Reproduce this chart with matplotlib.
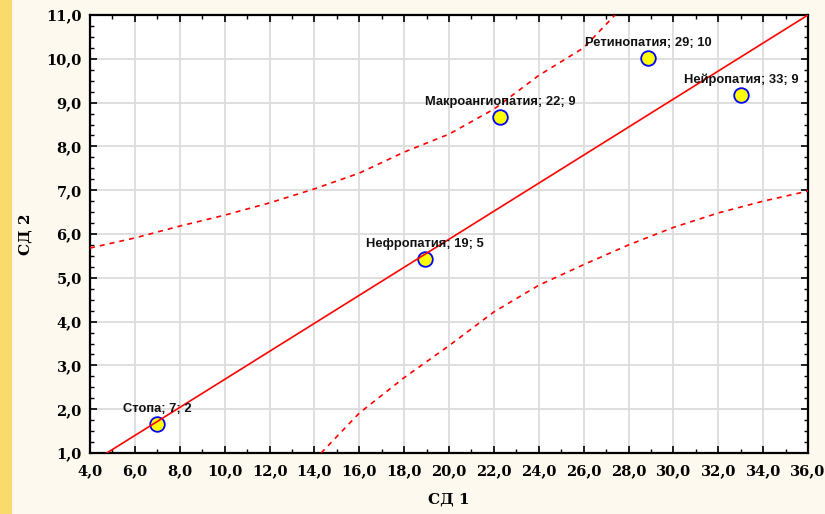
import numpy as np
import matplotlib.pyplot as plt
from matplotlib.ticker import MultipleLocator, FuncFormatter
from matplotlib.patches import Rectangle

# Осложнения: значения для СД 1 и СД 2
groups = ['Стопа', 'Нефропатия', 'Макроангиопатия', 'Ретинопатия', 'Нейропатия']
sd1 = [7.0, 18.93, 22.27, 28.87, 33.01]
sd2 = [1.66, 5.43, 8.67, 10.02, 9.17]

# линия регрессии
fit_slope = 0.32
fit_intercept = -0.52

# границы доверительного интервала
upper_x = [4, 6, 8, 10, 12, 14, 16, 18, 20, 22, 24, 26, 27.4]
upper_y = [5.68, 5.91, 6.18, 6.43, 6.71, 7.03, 7.39, 7.87, 8.28, 8.85, 9.62, 10.25, 11.0]
lower_x = [14.3, 16, 18, 20, 22, 24, 26, 28, 30, 32, 34, 36]
lower_y = [1.0, 1.91, 2.72, 3.45, 4.22, 4.83, 5.3, 5.75, 6.15, 6.48, 6.75, 6.98]

xmin, xmax = 4, 36
ymin, ymax = 1, 11

fig = plt.figure(figsize=(8.25, 5.14), dpi=100, facecolor='#fef9ee')
fig.patches.append(Rectangle((0, 0), 12 / 825, 1, transform=fig.transFigure,
                             facecolor='#f8db6b', edgecolor='none'))
ax = fig.add_axes([90 / 825, 61 / 514, 718 / 825, 438 / 514])
ax.set_facecolor('white')

# регрессия и доверительные границы
xx = np.array([xmin, xmax])
ax.plot(xx, fit_intercept + fit_slope * xx, color='#ff0000', lw=1.2, zorder=4)
ax.plot(upper_x, upper_y, color='#ff0000', lw=1.2, dashes=(3, 3), zorder=4)
ax.plot(lower_x, lower_y, color='#ff0000', lw=1.2, dashes=(3, 3), zorder=4)

ax.plot(sd1, sd2, 'o', ms=10.5, mfc='#ffff00', mec='#0000ff', mew=1.3, zorder=3)
for g, x, y in zip(groups, sd1, sd2):
    ax.annotate(f'{g}; {x:.0f}; {y:.0f}', (x, y), xytext=(0, 11),
                textcoords='offset points', ha='center', va='center',
                fontsize=9.3, fontweight='bold', family='Liberation Sans',
                color='#111111', zorder=5)

ax.set_xlim(xmin, xmax)
ax.set_ylim(ymin, ymax)
ax.xaxis.set_major_locator(MultipleLocator(2))
ax.xaxis.set_minor_locator(MultipleLocator(1))
ax.yaxis.set_major_locator(MultipleLocator(1))
ax.yaxis.set_minor_locator(MultipleLocator(0.25))
comma = FuncFormatter(lambda v, p: f'{v:.1f}'.replace('.', ','))
ax.xaxis.set_major_formatter(comma)
ax.yaxis.set_major_formatter(comma)

ax.grid(True, which='major', color='#dcdcdc', lw=1.3, zorder=0)
ax.set_axisbelow(True)
ax.tick_params(which='both', direction='in', top=True, right=True, color='black')
ax.tick_params(which='major', length=5, width=1.2)
ax.tick_params(which='minor', length=3, width=1.0)
ax.tick_params(axis='x', pad=8)
ax.tick_params(axis='y', pad=6)
for lab in ax.get_xticklabels() + ax.get_yticklabels():
    lab.set_fontfamily('DejaVu Serif')
    lab.set_fontweight('bold')
    lab.set_fontsize(10.5)
for s in ax.spines.values():
    s.set_linewidth(1.6)
    s.set_color('black')

ax.set_xlabel('СД 1', fontsize=11, fontweight='bold', family='DejaVu Serif', labelpad=10)
ax.set_ylabel('СД 2', fontsize=11, fontweight='bold', family='DejaVu Serif', labelpad=10)

fig.savefig('out.png', dpi=100, facecolor=fig.get_facecolor())
